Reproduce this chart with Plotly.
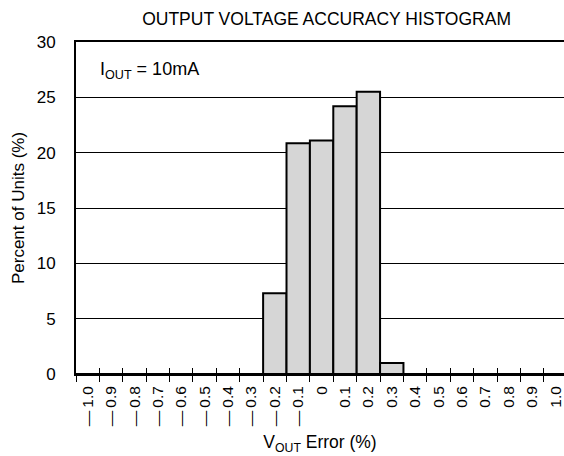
import plotly.graph_objects as go

# Data
bin_centers = [-1.0, -0.9, -0.8, -0.7, -0.6, -0.5, -0.4, -0.3, -0.2, -0.1, 0.0,
               0.1, 0.2, 0.3, 0.4, 0.5, 0.6, 0.7, 0.8, 0.9, 1.0]
percent_units = [0, 0, 0, 0, 0, 0, 0, 0, 7.3, 20.85, 21.1,
                 24.2, 25.5, 1.0, 0, 0, 0, 0, 0, 0, 0]
tick_labels = ["\u2014\u20091.0", "\u2014\u20090.9", "\u2014\u20090.8", "\u2014\u20090.7",
               "\u2014\u20090.6", "\u2014\u20090.5", "\u2014\u20090.4", "\u2014\u20090.3",
               "\u2014\u20090.2", "\u2014\u20090.1", "0", "0.1", "0.2", "0.3",
               "0.4", "0.5", "0.6", "0.7", "0.8", "0.9", "1.0"]

FONT = "Liberation Sans, Arial, sans-serif"
bin_width = 0.1
x_range = [-1.05, 1.0364]

fig = go.Figure()
fig.add_trace(go.Bar(
    x=bin_centers, y=percent_units, width=bin_width,
    marker=dict(color="#d6d6d6", line=dict(color="black", width=2)),
    showlegend=False, hoverinfo="skip",
))
# helper traces on overlay axes (no visible marks)
for ax in ["x2", "x3", "x4"]:
    fig.add_trace(go.Scatter(x=bin_centers, y=percent_units, xaxis=ax, yaxis="y",
                             mode="none", showlegend=False, hoverinfo="skip"))

common = dict(range=x_range, showgrid=False, zeroline=False, fixedrange=True)
fig.update_layout(
    width=564, height=456,
    margin=dict(l=76, r=0, t=42, b=82),
    paper_bgcolor="white", plot_bgcolor="white",
    font=dict(family=FONT, color="black", size=17),
    title=dict(text="OUTPUT VOLTAGE ACCURACY HISTOGRAM", x=0.579, xanchor="center",
               y=1 - 19 / 456, yanchor="middle", yref="container",
               font=dict(size=17.5, family=FONT, color="black")),
    xaxis=dict(**common, showline=True, linecolor="black", linewidth=2,
               tickmode="linear", tick0=-1.05, dtick=bin_width,
               ticks="outside", ticklen=6, tickwidth=1, tickcolor="black",
               showticklabels=False),
    xaxis2=dict(**common, overlaying="x", side="bottom", anchor="y", showline=False,
                tickmode="linear", tick0=-1.05, dtick=bin_width,
                ticks="inside", ticklen=6, tickwidth=1, tickcolor="black",
                showticklabels=False),
    xaxis3=dict(**common, overlaying="x", side="bottom", anchor="y", showline=False,
                tickmode="array", tickvals=bin_centers, ticktext=tick_labels,
                ticks="", tickangle=-90, ticklabelstandoff=8,
                tickfont=dict(size=15.5, family=FONT, color="black"),
                title=dict(text="V<sub>OUT</sub> Error (%)", standoff=10,
                           font=dict(size=17.5, family=FONT, color="black"))),
    xaxis4=dict(**common, overlaying="x", side="top", anchor="y", showline=True,
                linecolor="black", linewidth=2, ticks="", showticklabels=False),
    yaxis=dict(range=[0, 30], tickmode="linear", tick0=0, dtick=5,
               showgrid=True, gridcolor="black", gridwidth=1,
               showline=True, linecolor="black", linewidth=2, zeroline=False,
               ticks="", ticklabelstandoff=15, fixedrange=True,
               tickfont=dict(size=17, family=FONT, color="black"),
               title=dict(text="Percent of Units (%)", standoff=8,
                          font=dict(size=17, family=FONT, color="black"))),
    annotations=[dict(text="I<sub>OUT</sub> = 10mA", x=-0.956, y=27.4, xref="x", yref="y",
                      xanchor="left", yanchor="middle", showarrow=False,
                      font=dict(size=18, family=FONT, color="black"))],
)

fig.write_html("out.html")
